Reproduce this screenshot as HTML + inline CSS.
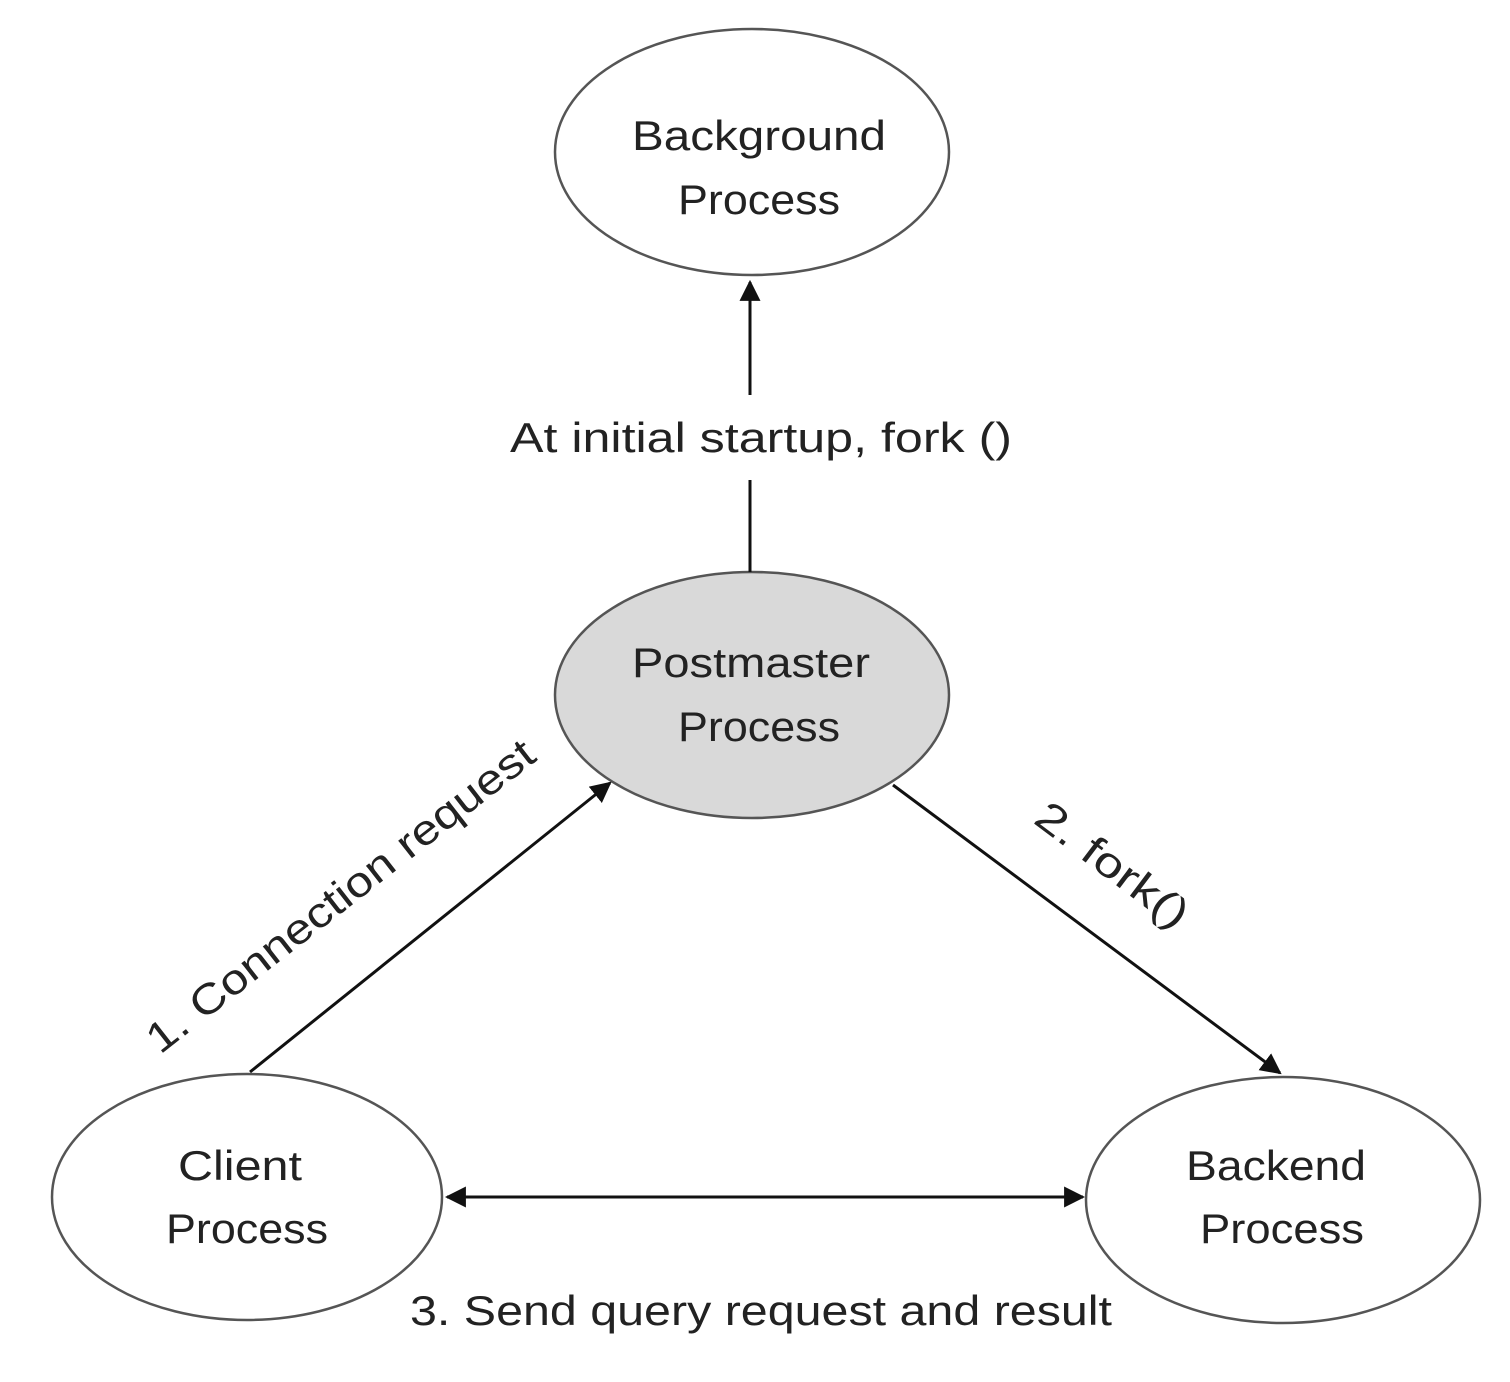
<!DOCTYPE html>
<html><head><style>body{margin:0;background:#fff}</style></head><body>
<svg width="1510" height="1377" viewBox="0 0 1510 1377" xmlns="http://www.w3.org/2000/svg" font-family="Liberation Sans, sans-serif" font-size="42" fill="#222">
<defs><marker id="a" viewBox="0 0 10 10" refX="9" refY="5" markerWidth="7" markerHeight="7" orient="auto-start-reverse"><path d="M0,0L10,5L0,10z" fill="#111"/></marker></defs>
<g stroke="#555" stroke-width="2.5">
<ellipse cx="752" cy="152" rx="197" ry="123" fill="#fff"/>
<ellipse cx="752" cy="695" rx="197" ry="123" fill="#d9d9d9"/>
<ellipse cx="247" cy="1197" rx="195" ry="123" fill="#fff"/>
<ellipse cx="1283" cy="1200" rx="197" ry="123" fill="#fff"/>
</g>
<g stroke="#111" stroke-width="3" fill="none">
<line x1="750" y1="572" x2="750" y2="480"/>
<line x1="750" y1="395" x2="750" y2="282" marker-end="url(#a)"/>
<line x1="250" y1="1072" x2="610" y2="783" marker-end="url(#a)"/>
<line x1="893" y1="785" x2="1280" y2="1073" marker-end="url(#a)"/>
<line x1="447" y1="1197" x2="1083" y2="1197" marker-start="url(#a)" marker-end="url(#a)"/>
</g>
<g>
<text x="632" y="150" textLength="254" lengthAdjust="spacingAndGlyphs">Background</text>
<text x="678" y="214" textLength="162" lengthAdjust="spacingAndGlyphs">Process</text>
<text x="632" y="677" textLength="238" lengthAdjust="spacingAndGlyphs">Postmaster</text>
<text x="678" y="741" textLength="162" lengthAdjust="spacingAndGlyphs">Process</text>
<text x="178" y="1180" textLength="124" lengthAdjust="spacingAndGlyphs">Client</text>
<text x="166" y="1243" textLength="162" lengthAdjust="spacingAndGlyphs">Process</text>
<text x="1186" y="1180" textLength="180" lengthAdjust="spacingAndGlyphs">Backend</text>
<text x="1200" y="1243" textLength="164" lengthAdjust="spacingAndGlyphs">Process</text>
<text x="510" y="452" textLength="502" lengthAdjust="spacingAndGlyphs">At initial startup, fork ()</text>
<text x="410" y="1325" textLength="702" lengthAdjust="spacingAndGlyphs">3. Send query request and result</text>
<text transform="translate(160,1055) rotate(-38)" textLength="480" lengthAdjust="spacingAndGlyphs">1. Connection request</text>
<text transform="translate(1032,822) rotate(37)" textLength="180" lengthAdjust="spacingAndGlyphs">2. fork()</text>
</g>
</svg>
</body></html>
